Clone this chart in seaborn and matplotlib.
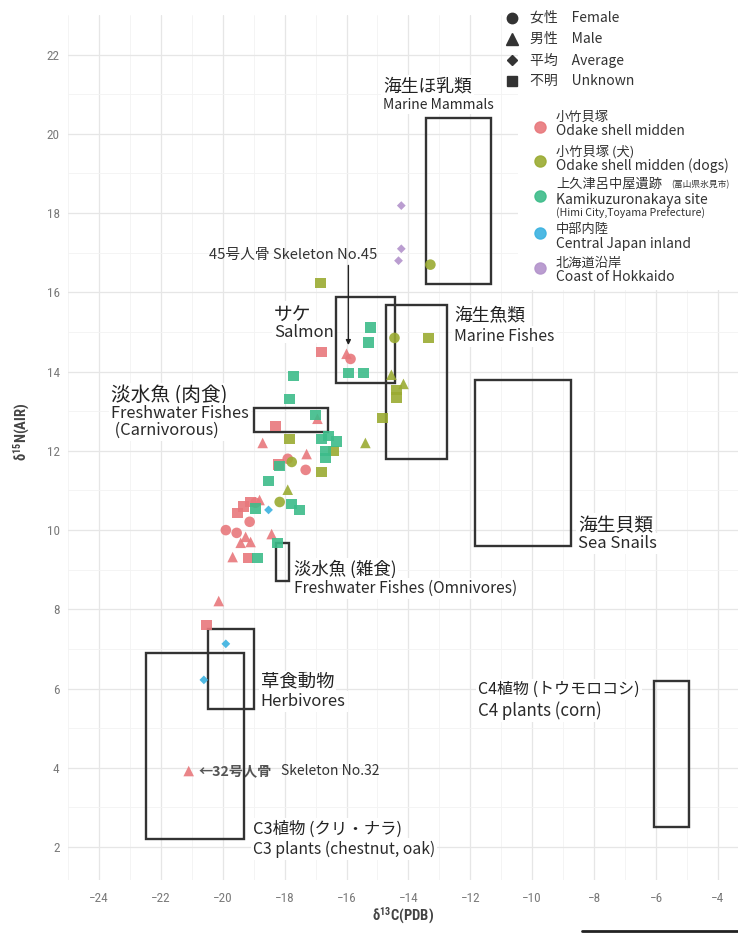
import matplotlib
matplotlib.use("Agg")
import numpy as np
import pandas as pd
import matplotlib.pyplot as plt
import seaborn as sns
from matplotlib.lines import Line2D
from matplotlib.patches import Rectangle
from matplotlib import font_manager

# ---------------- data ----------------
site_order = ["小竹貝塚", "小竹貝塚 (犬)", "上久津呂中屋遺跡", "中部内陸", "北海道沿岸"]
sex_order = ["Female", "Male", "Average", "Unknown"]

odake_c13 = [-16.0, -15.87, -16.81, -16.94, -18.29, -18.71, -17.29, -17.9, -17.32, -18.19,
             -19.32, -19.1, -18.94, -18.81, -19.52, -19.13, -19.9, -19.55, -19.26, -19.42,
             -19.1, -19.68, -19.19, -18.42, -20.13, -20.52, -21.1]
odake_n15 = [14.45, 14.32, 14.5, 12.81, 12.63, 12.2, 11.92, 11.8, 11.52, 11.65,
             10.59, 10.71, 10.69, 10.76, 10.43, 10.21, 10.0, 9.93, 9.83, 9.68,
             9.70, 9.32, 9.30, 9.9, 8.21, 7.61, 3.92]
odake_sex = ["Male", "Female", "Unknown", "Male", "Unknown", "Male", "Male", "Female", "Female", "Unknown",
             "Unknown", "Unknown", "Female", "Male", "Unknown", "Female", "Female", "Female", "Male", "Male",
             "Male", "Male", "Unknown", "Male", "Male", "Unknown", "Male"]

dog_c13 = [-13.29, -16.84, -14.45, -13.35, -14.55, -14.16, -14.39, -14.39, -14.84, -15.39,
           -17.84, -16.42, -17.77, -16.81, -17.9, -18.16]
dog_n15 = [16.7, 16.24, 14.85, 14.85, 13.92, 13.69, 13.54, 13.34, 12.83, 12.2,
           12.3, 12.0, 11.72, 11.47, 11.02, 10.71]
dog_sex = ["Female", "Unknown", "Female", "Unknown", "Male", "Male", "Unknown", "Unknown", "Unknown", "Male",
           "Unknown", "Unknown", "Female", "Unknown", "Male", "Female"]

kami_c13 = [-15.23, -15.29, -15.94, -15.45, -17.71, -17.84, -17.0, -16.81, -16.58, -16.32,
            -16.68, -16.68, -18.16, -18.52, -17.77, -17.52, -18.94, -18.87, -18.23]
kami_n15 = [15.11, 14.73, 13.97, 13.97, 13.89, 13.31, 12.91, 12.3, 12.38, 12.23,
            12.0, 11.82, 11.62, 11.24, 10.66, 10.51, 10.54, 9.30, 9.68]
kami_sex = ["Unknown"] * len(kami_c13)

inland_c13 = [-18.52, -19.9, -20.61]
inland_n15 = [10.51, 7.13, 6.22]
inland_sex = ["Average"] * 3

hokkaido_c13 = [-14.23, -14.23, -14.32]
hokkaido_n15 = [18.19, 17.1, 16.8]
hokkaido_sex = ["Average"] * 3

# food-source ranges (δ13C min/max, δ15N min/max)
box_name = ["marine_mammals", "salmon", "marine_fishes", "fw_carnivorous", "sea_snails",
            "fw_omnivorous", "herbivores", "c3_plants", "c4_plants"]
box_c13_min = [-13.42, -16.35, -14.71, -19.0, -11.84, -18.29, -20.48, -22.48, -6.06]
box_c13_max = [-11.32, -14.42, -12.74, -16.61, -8.74, -17.87, -19.0, -19.32, -4.94]
box_n15_min = [16.2, 13.72, 11.8, 12.48, 9.6, 8.72, 5.48, 2.2, 2.5]
box_n15_max = [20.41, 15.89, 15.69, 13.09, 13.79, 9.68, 7.51, 6.9, 6.19]

frames = []
for site, xs, ys, sx in [(site_order[0], odake_c13, odake_n15, odake_sex),
                         (site_order[1], dog_c13, dog_n15, dog_sex),
                         (site_order[2], kami_c13, kami_n15, kami_sex),
                         (site_order[3], inland_c13, inland_n15, inland_sex),
                         (site_order[4], hokkaido_c13, hokkaido_n15, hokkaido_sex)]:
    frames.append(pd.DataFrame({"site": site, "d13C": xs, "d15N": ys, "sex": sx}))
df = pd.concat(frames, ignore_index=True)

# ---------------- style ----------------
palette = dict(zip(site_order, ["#E8787C", "#9AAB32", "#3DBC8A", "#3BB2E0", "#B393CB"]))
markers = {"Female": "o", "Male": "^", "Average": "D", "Unknown": "s"}

sns.set_theme(style="white")
plt.rcParams["font.family"] = ["Noto Sans CJK JP", "DejaVu Sans"]
plt.rcParams["mathtext.default"] = "regular"

installed = {f.name for f in font_manager.fontManager.ttflist}
tick_family = next((f for f in ["Liberation Sans Narrow", "Roboto Condensed", "Liberation Sans"]
                    if f in installed), "DejaVu Sans")

W, H = 738, 934
fig = plt.figure(figsize=(W / 100, H / 100), dpi=100)
fig.patch.set_facecolor("white")
ax = fig.add_axes([68 / W, 1 - 880 / H, 670 / W, 865 / H])
ax.set_facecolor("white")

ax.set_xlim(-25.0, -3.35)
ax.set_ylim(1.17, 23.0)
ax.set_xticks(np.arange(-24, -3, 2))
ax.set_yticks(np.arange(2, 23, 2))
ax.set_xticks(np.arange(-25, -3, 2), minor=True)
ax.set_yticks(np.arange(3, 23, 2), minor=True)
ax.grid(which="major", color="#E6E6E6", linewidth=0.9)
ax.grid(which="minor", color="#F3F3F3", linewidth=0.6)
ax.set_axisbelow(True)
for s in ax.spines.values():
    s.set_visible(False)
ax.tick_params(which="both", length=0, labelcolor="#7A7A7A", labelsize=9.5)
ax.tick_params(axis="x", pad=9)
ax.tick_params(axis="y", pad=6)
for lbl in ax.get_xticklabels() + ax.get_yticklabels():
    lbl.set_family([tick_family, "DejaVu Sans"])

# ---------------- food-source boxes ----------------
for x0, x1, y0, y1 in zip(box_c13_min, box_c13_max, box_n15_min, box_n15_max):
    ax.add_patch(Rectangle((x0, y0), x1 - x0, y1 - y0, fill=False,
                           edgecolor="#333333", linewidth=1.7, zorder=5))

# ---------------- points ----------------
main = df[df["sex"] != "Average"]
avg = df[df["sex"] == "Average"]
sns.scatterplot(data=main, x="d13C", y="d15N", hue="site", style="sex",
                hue_order=site_order, palette=palette, markers=markers,
                s=58, alpha=0.9, linewidth=0, legend=False, ax=ax, zorder=6)
sns.scatterplot(data=avg, x="d13C", y="d15N", hue="site", style="sex",
                hue_order=site_order, palette=palette, markers=markers,
                s=20, alpha=0.9, linewidth=0, legend=False, ax=ax, zorder=6)
ax.set_xlabel("")
ax.set_ylabel("")

# ---------------- region labels ----------------
white = dict(facecolor="white", edgecolor="none", pad=1.5)
# (x, top y, Japanese, English, Japanese size, English size)
region_labels = [
    (-14.81, 21.42, "海生ほ乳類", "Marine Mammals", 12.8, 10.0),
    (-18.35, 15.72, "サケ", "Salmon", 13.5, 12.0),
    (-12.52, 15.62, "海生魚類", "Marine Fishes", 12.8, 11.3),
    (-23.61, 13.67, "淡水魚 (肉食)", "Freshwater Fishes\n (Carnivorous)", 14.2, 11.8),
    (-8.52, 10.38, "海生貝類", "Sea Snails", 13.5, 12.0),
    (-17.71, 9.25, "淡水魚 (雑食)", "Freshwater Fishes (Omnivores)", 12.5, 11.2),
    (-18.77, 6.40, "草食動物", "Herbivores", 13.2, 12.0),
    (-19.03, 2.68, "C3植物 (クリ・ナラ)", "C3 plants (chestnut, oak)", 11.8, 11.3),
    (-11.74, 6.19, "C4植物 (トウモロコシ)", "C4 plants (corn)", 11.5, 12.2),
]
for x, y, jp, en, jp_size, en_size in region_labels:
    ax.text(x, y, jp, fontsize=jp_size, color="#222222", ha="left", va="top",
            bbox=white, zorder=4)
    ax.annotate(en, xy=(x, y), xycoords="data", xytext=(0, -14.5), textcoords="offset points",
                fontsize=en_size, color="#2A2A2A", ha="left", va="top", linespacing=1.0,
                bbox=white, zorder=4)

# individual skeletons
ax.text(-17.71, 16.95, "45号人骨 Skeleton No.45", fontsize=10.6, color="#333333",
        ha="center", va="center", zorder=4)
ax.annotate("", xy=(-15.94, 14.6), xytext=(-15.94, 16.75),
            arrowprops=dict(arrowstyle="-|>", color="#222222", lw=1.0, mutation_scale=7),
            zorder=7)
ax.text(-20.78, 3.92, "←32号人骨", fontsize=10.2, fontweight="bold", color="#555555",
        ha="left", va="center", zorder=4)
ax.text(-18.13, 3.92, "Skeleton No.32", fontsize=10, color="#333333",
        ha="left", va="center", zorder=4)

# ---------------- axis titles ----------------
fig.text(403 / W, 1 - 916 / H, r"δ$^{13}$C(PDB)", fontsize=10.5, fontweight="bold",
         color="#444444", ha="center", va="center", family=[tick_family, "DejaVu Sans"])
fig.text(22 / W, 1 - 432 / H, r"δ$^{15}$N(AIR)", fontsize=10.5, fontweight="bold",
         color="#444444", ha="center", va="center", rotation=90,
         family=[tick_family, "DejaVu Sans"])

# ---------------- legends ----------------
def fx(px):
    return px / W


def fy(py):
    return 1 - py / H


fig.add_artist(Rectangle((fx(518), fy(290)), fx(738) - fx(518), fy(0) - fy(290),
                         transform=fig.transFigure, facecolor="white", edgecolor="none",
                         zorder=1))

shape_rows = [("Female", "女性\u3000Female", 18, 7.5),
              ("Male", "男性\u3000Male", 39, 8.0),
              ("Average", "平均\u3000Average", 60, 5.0),
              ("Unknown", "不明\u3000Unknown", 81, 7.5)]
for key, text, py, ms in shape_rows:
    fig.add_artist(Line2D([fx(512)], [fy(py)], marker=markers[key], markersize=ms,
                          color="#333333", linestyle="none", transform=fig.transFigure,
                          zorder=2))
    fig.text(fx(530), fy(py), text, fontsize=10, color="#333333", ha="left", va="center",
             zorder=3)

color_rows = [
    (site_order[0], 127, [("小竹貝塚", 117, 9.5), ("Odake shell midden", 131, 10)]),
    (site_order[1], 161, [("小竹貝塚 (犬)", 152, 9.5), ("Odake shell midden (dogs)", 166, 10)]),
    (site_order[2], 196, [("上久津呂中屋遺跡", 184, 9.5), ("Kamikuzuronakaya site", 200, 10),
                          ("(Himi City,Toyama Prefecture)", 213, 7.6)]),
    (site_order[3], 233, [("中部内陸", 229, 9.5), ("Central Japan inland", 244, 10)]),
    (site_order[4], 268, [("北海道沿岸", 263, 9.5), ("Coast of Hokkaido", 277, 10)]),
]
for site, py, lines in color_rows:
    fig.add_artist(Line2D([fx(540)], [fy(py)], marker="o", markersize=8,
                          color=palette[site], alpha=0.9, linestyle="none",
                          transform=fig.transFigure, zorder=2))
    for text, ty, size in lines:
        fig.text(fx(556), fy(ty), text, fontsize=size, color="#333333", ha="left",
                 va="center", zorder=3)
fig.text(fx(671), fy(185), "(富山県氷見市)", fontsize=6.3, color="#333333", ha="left",
         va="center", zorder=3)

# rule along the lower right edge
fig.add_artist(Line2D([fx(582), fx(738)], [fy(931), fy(931)], color="#222222",
                      linewidth=2, transform=fig.transFigure, zorder=2))

fig.savefig("out.png", dpi=100, facecolor="white")
